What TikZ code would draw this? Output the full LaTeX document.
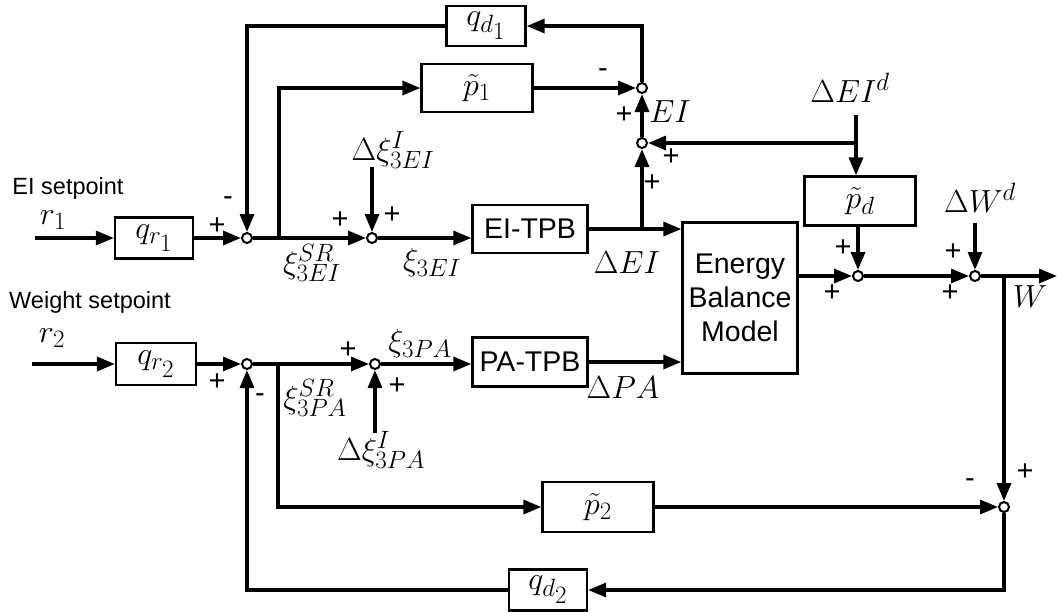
\RequirePackage{fix-cm}
\documentclass[tikz,border=0pt]{standalone}
\usepackage{fontspec}
\setsansfont{Liberation Sans}
\DeclareMathSizes{32}{32}{25}{20}
\usetikzlibrary{arrows.meta,calc}
\begin{document}
\begin{tikzpicture}[x=1pt,y=-1pt,
  blk/.style={draw, line width=2.3pt, inner sep=0pt},
  sig/.style={line width=3.3pt, -{Triangle[length=18pt,width=14pt]}},
  sumc/.style={circle, draw, line width=2pt, fill=white, inner sep=0pt, minimum size=10pt},
  sgn/.style={font=\sffamily\fontsize{29}{29}\selectfont, inner sep=0pt},
  ml/.style={font=\fontsize{32}{36}\selectfont, inner sep=0pt},
  st/.style={font=\sffamily\fontsize{23.5}{26}\selectfont, inner sep=0pt},
  tb/.style={font=\sffamily\fontsize{28.5}{34}\selectfont}]
\useasboundingbox (0,0) rectangle (1057,611);

% blocks
\node[blk, minimum width=78pt, minimum height=41pt, ml] (qr1) at (154,238) {$q_{r_{\scriptstyle 1}}$};
\node[blk, minimum width=79pt, minimum height=40pt, ml] (qd1) at (486,26) {$q_{d_{\scriptstyle 1}}$};
\node[blk, minimum width=111pt, minimum height=48pt, ml] (p1) at (477,88) {$\tilde{p}_1$};
\node[blk, minimum width=115pt, minimum height=48pt, tb] (eitpb) at (530,229) {EI-TPB};
\node[blk, minimum width=111pt, minimum height=49pt, ml] (pd) at (860,201) {$\tilde{p}_d$};
\node[blk, minimum width=115pt, minimum height=151pt, tb, align=center] (ebm) at (740,298) {Energy\\Balance\\Model};
\node[blk, minimum width=80pt, minimum height=42pt, ml] (qr2) at (156,364) {$q_{r_{\scriptstyle 2}}$};
\node[blk, minimum width=115pt, minimum height=49pt, tb] (patpb) at (530,362) {PA-TPB};
\node[blk, minimum width=111pt, minimum height=50pt, ml] (p2) at (598,507) {$\tilde{p}_2$};
\node[blk, minimum width=78pt, minimum height=41pt, ml] (qd2) at (548,590) {$q_{d_{\scriptstyle 2}}$};

% summing junctions
\node[sumc] (s1) at (247,238) {};
\node[sumc] (s2) at (372,238) {};
\node[sumc] (sEI) at (642,88) {};
\node[sumc] (sEI2) at (642,143) {};
\node[sumc] (sW1) at (858,276) {};
\node[sumc] (sW2) at (975,276) {};
\node[sumc] (sP1) at (247,364) {};
\node[sumc] (sP2) at (375,364) {};
\node[sumc] (sB) at (1004,507) {};

% free ends
\coordinate (in1) at (35,238);
\coordinate (in2) at (32,364);
\coordinate (b1) at (279,238);
\coordinate (b2) at (278,364);
\coordinate (dxEI) at (372,167);
\coordinate (dxPA) at (375,433);
\coordinate (dEId) at (856,115);
\coordinate (j1) at (856,143);
\coordinate (dWd) at (975,223);
\coordinate (bW) at (1004,276);
\coordinate (out) at (1057,276);

% EI loop
\draw[sig] (in1) -- (qr1.west);
\draw[sig] (qr1.east) -- (s1.west);
\draw[sig] (s1.east) -- (s2.west);
\draw[sig] (b1) |- (p1.west);
\draw[sig] (dxEI) -- (s2.north);
\draw[sig] (s2.east) -- (s2 -| eitpb.west);
\draw[sig] (eitpb.east) -- (eitpb.east -| ebm.west);
\draw[sig] (eitpb.east -| sEI2) -- (sEI2.south);
\draw[sig] (sEI2.north) -- (sEI.south);
\draw[sig] (p1.east) -- (sEI.west);
\draw[sig] (sEI.north) |- (qd1.east);
\draw[sig] (qd1.west) -| (s1.north);
\draw[sig] (dEId) -- (dEId |- pd.north);
\draw[sig] (j1) -- (sEI2.east);
\draw[sig] (pd.south -| sW1) -- (sW1.north);

% output
\draw[sig] (ebm.east |- sW1) -- (sW1.west);
\draw[sig] (sW1.east) -- (sW2.west);
\draw[sig] (dWd) -- (sW2.north);
\draw[sig] (sW2.east) -- (out);
\draw[sig] (bW) -- (sB.north);
\draw[sig] (p2.east |- sB) -- (sB.west);
\draw[sig] (sB.south) |- (qd2.east);
\draw[sig] (qd2.west) -| (sP1.south);

% PA loop
\draw[sig] (in2) -- (qr2.west);
\draw[sig] (qr2.east) -- (sP1.west);
\draw[sig] (sP1.east) -- (sP2.west);
\draw[sig] (b2) |- (p2.west);
\draw[sig] (dxPA) -- (sP2.south);
\draw[sig] (sP2.east) -- (sP2 -| patpb.west);
\draw[sig] (patpb.east) -- (patpb.east -| ebm.west);

% texts
\node[st] (t1) at (68,188) {EI setpoint};
\node[st] (t2) at (90,302) {Weight setpoint};
\node[ml] (r1) at (53,220) {$r_1$};
\node[ml] (r2) at (52,338) {$r_2$};
\node[sgn] (g1) at (217,226) {+};
\node[sgn] (g2) at (228,201) {-};
\node[ml] (xSR1) at (312,263) {$\xi^{SR}_{3EI}$};
\node[sgn] (g3) at (340,220) {+};
\node[sgn] (g4) at (392,215) {+};
\node[ml] (dxi1) at (393,150) {$\Delta\xi^{I}_{3EI}$};
\node[ml] (x1) at (432,262) {$\xi_{3EI}$};
\node[sgn] (g5) at (603,73) {-};
\node[sgn] (g6) at (624,115) {+};
\node[ml] (EI) at (670,112) {$EI$};
\node[sgn] (g7) at (671,157) {+};
\node[sgn] (g8) at (652,183) {+};
\node[ml] (dEI) at (627,263) {$\Delta EI$};
\node[ml] (dEIdl) at (850,88) {$\Delta EI^{d}$};
\node[ml] (dWdl) at (980,198) {$\Delta W^{d}$};
\node[sgn] (g9) at (843,248) {+};
\node[sgn] (g10) at (832,293) {+};
\node[sgn] (g11) at (953,252) {+};
\node[sgn] (g12) at (950,293) {+};
\node[ml] (W) at (1030,297) {$W$};
\node[sgn] (g13) at (217,382) {+};
\node[sgn] (g14) at (260,398) {-};
\node[ml] (xSR2) at (315,398) {$\xi^{SR}_{3PA}$};
\node[sgn] (g15) at (348,350) {+};
\node[sgn] (g16) at (397,386) {+};
\node[ml] (x2) at (420,343) {$\xi_{3PA}$};
\node[ml] (dPA) at (623,388) {$\Delta PA$};
\node[ml] (dxi2) at (381,450) {$\Delta\xi^{I}_{3PA}$};
\node[sgn] (g17) at (970,483) {-};
\node[sgn] (g18) at (1025,472) {+};
\end{tikzpicture}
\end{document}
